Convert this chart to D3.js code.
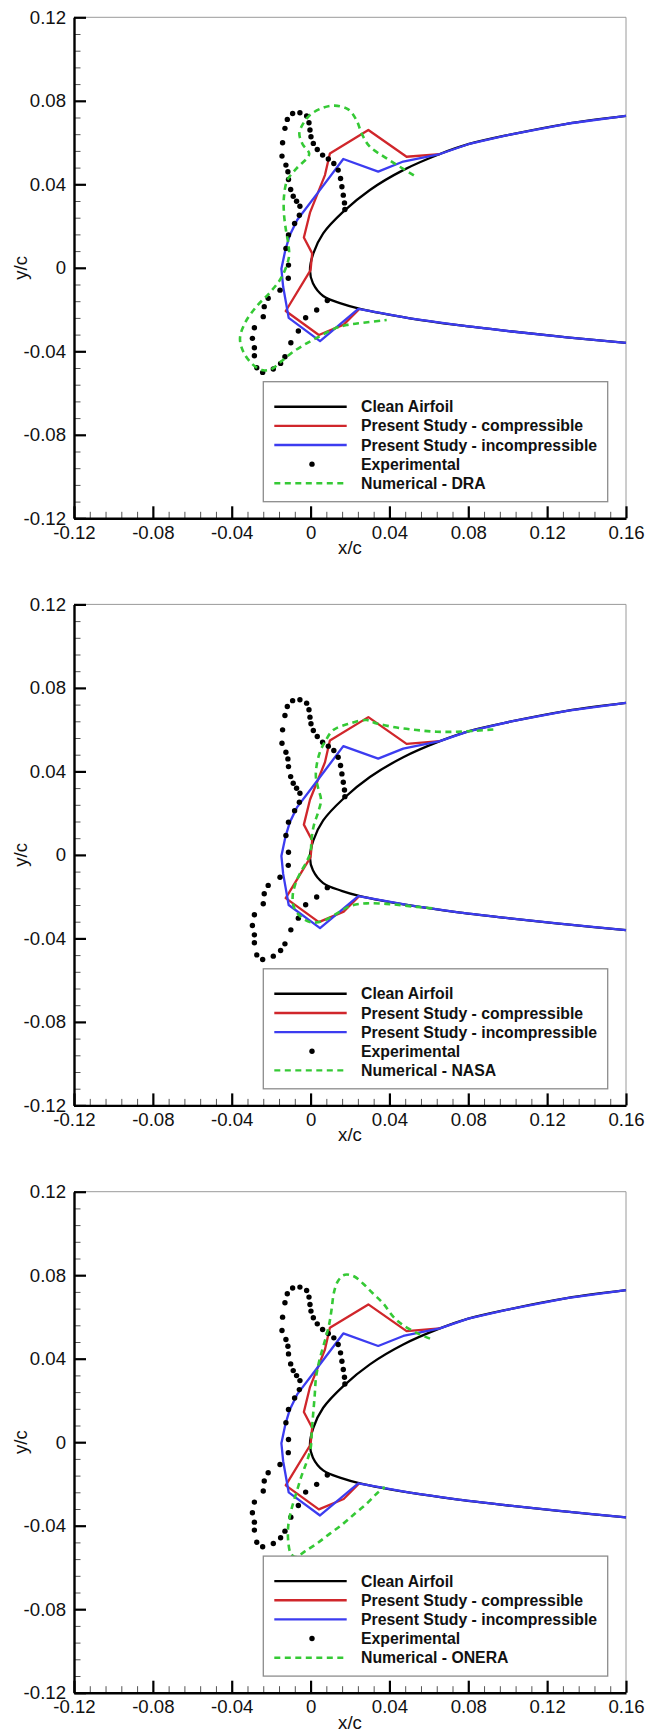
<!DOCTYPE html>
<html>
<head>
<meta charset="utf-8">
<script src="https://cdn.jsdelivr.net/npm/d3@7"></script>
<style>
  html, body { margin: 0; padding: 0; background: #fff; }
  svg { display: block; }
  text { font-family: "Liberation Sans", Arial, Helvetica, sans-serif; fill: #111; }
</style>
</head>
<body>
<svg id="chart" width="660" height="1733"></svg>
<script>
// Axis ticks and labels
const xTicks = [-0.12, -0.08, -0.04, 0, 0.04, 0.08, 0.12, 0.16];
const yTicks = [-0.12, -0.08, -0.04, 0, 0.04, 0.08, 0.12];
const xTickLabels = ["-0.12", "-0.08", "-0.04", "0", "0.04", "0.08", "0.12", "0.16"];
const yTickLabels = ["-0.12", "-0.08", "-0.04", "0", "0.04", "0.08", "0.12"];

// Clean airfoil contour (lower trailing side -> leading edge -> upper side)
const cleanAirfoil = [
  [0.16, -0.0360], [0.13, -0.0333], [0.1011, -0.0304], [0.075, -0.0275], [0.0504, -0.0242],
  [0.0251, -0.0197], [0.0157, -0.0172], [0.0064, -0.0135], [0.0012, -0.0074], [-0.0003, -0.0012],
  [0.0014, 0.0069], [0.0064, 0.0165], [0.0166, 0.0269], [0.0301, 0.0373], [0.047, 0.0468],
  [0.0656, 0.0545], [0.08, 0.0592], [0.1012, 0.0638], [0.13, 0.0690], [0.16, 0.0728]
];

// Present study, compressible ice shape
const presentCompressible = [
  [0.0656, 0.0545], [0.0487, 0.0532], [0.0293, 0.0660], [0.0098, 0.0548], [0.0073, 0.0444],
  [-0.0003, 0.0264], [-0.0034, 0.0145], [0.0008, 0.0069], [0.0000, -0.0011], [-0.0126, -0.0207],
  [0.0042, -0.0322], [0.0168, -0.0272], [0.0245, -0.0199]
];

// Present study, incompressible ice shape (includes the clean surface downstream)
const presentIncompressible = [
  [0.16, -0.0360], [0.13, -0.0333], [0.1011, -0.0304], [0.075, -0.0275], [0.0504, -0.0242],
  [0.0242, -0.0197], [0.0048, -0.0351], [-0.0111, -0.0240], [-0.0139, -0.0091], [-0.0148, -0.0005],
  [-0.0128, 0.0085], [-0.0105, 0.0157], [-0.0068, 0.0229], [0.0047, 0.0372], [0.0166, 0.0521],
  [0.0343, 0.0461], [0.0470, 0.0509], [0.0656, 0.0545], [0.08, 0.0592], [0.1012, 0.0638],
  [0.13, 0.0690], [0.16, 0.0728]
];

// Experimental ice tracing
const experimental = [
  [0.0174, 0.0279], [0.0172, 0.0311], [0.0166, 0.0348], [0.0159, 0.0388], [0.0152, 0.0428],
  [0.0140, 0.0468], [0.0118, 0.0500], [0.0090, 0.0521], [0.0061, 0.0540], [0.0034, 0.0567],
  [0.0014, 0.0596], [0.0002, 0.0628], [-0.0003, 0.0660], [-0.0008, 0.0695], [-0.0020, 0.0727],
  [-0.0054, 0.0743], [-0.0091, 0.0739], [-0.0118, 0.0711], [-0.0130, 0.0668], [-0.0142, 0.0599],
  [-0.0145, 0.0535], [-0.0125, 0.0492], [-0.0115, 0.0460], [-0.0112, 0.0423], [-0.0101, 0.0375],
  [-0.0088, 0.0343], [-0.0071, 0.0319], [-0.0054, 0.0295], [-0.0057, 0.0252], [-0.0081, 0.0212],
  [-0.0112, 0.0157], [-0.0125, 0.0093], [-0.0112, 0.0013], [-0.0113, -0.0050], [-0.0155, -0.0107],
  [-0.0215, -0.0146], [-0.0235, -0.0186], [-0.0240, -0.0234], [-0.0285, -0.0287], [-0.0295, -0.0338],
  [-0.0285, -0.0383], [-0.0285, -0.0421], [-0.0273, -0.0479], [-0.0243, -0.0501], [-0.0189, -0.0485],
  [-0.0152, -0.0458], [-0.0130, -0.0426], [-0.0100, -0.0359], [-0.0062, -0.0303], [-0.0025, -0.0239],
  [0.0031, -0.0202], [0.0085, -0.0157]
];

// Numerical ice shapes from other codes
const numericalDRA = [
  [0.0524, 0.0443], [0.0386, 0.0524], [0.0298, 0.0583], [0.0259, 0.0644], [0.0233, 0.0707],
  [0.0191, 0.0759], [0.0123, 0.0777], [0.0056, 0.0764], [-0.0003, 0.0732], [-0.0037, 0.0692],
  [-0.0057, 0.0644], [-0.0041, 0.0593], [-0.0007, 0.0545], [-0.0071, 0.0476], [-0.0118, 0.0420],
  [-0.0135, 0.0340], [-0.0135, 0.0261], [-0.0125, 0.0181], [-0.0112, 0.0109], [-0.0110, 0.0050],
  [-0.0147, -0.0045], [-0.0206, -0.0118], [-0.0274, -0.0185], [-0.0333, -0.0265], [-0.0358, -0.0338],
  [-0.0341, -0.0402], [-0.0299, -0.0458], [-0.0248, -0.0490], [-0.0198, -0.0485], [-0.0147, -0.0447],
  [-0.0088, -0.0402], [-0.0020, -0.0362], [0.0048, -0.0327], [0.0124, -0.0290], [0.0183, -0.0274],
  [0.0267, -0.0263], [0.0386, -0.0250]
];
const numericalNASA = [
  [0.0927, 0.0601], [0.0842, 0.0595], [0.0741, 0.0590], [0.0640, 0.0590], [0.0538, 0.0598],
  [0.0437, 0.0610], [0.0335, 0.0630], [0.0284, 0.0646], [0.0200, 0.0630], [0.0115, 0.0598],
  [0.0073, 0.0542], [0.0048, 0.0494], [0.0031, 0.0430], [0.0027, 0.0374], [0.0039, 0.0318],
  [0.0053, 0.0263], [0.0039, 0.0206], [0.0017, 0.0143], [0.0005, 0.0079], [0.0000, 0.0015],
  [-0.0020, -0.0033], [-0.0054, -0.0089], [-0.0079, -0.0145], [-0.0091, -0.0200], [-0.0084, -0.0252],
  [-0.0050, -0.0296], [0.0005, -0.0324], [0.0073, -0.0312], [0.0149, -0.0272], [0.0200, -0.0245],
  [0.0284, -0.0232], [0.0403, -0.0236], [0.0538, -0.0249], [0.0640, -0.0257]
];
const numericalONERA = [
  [0.0606, 0.0496], [0.0546, 0.0520], [0.0470, 0.0560], [0.0420, 0.0600], [0.0369, 0.0664],
  [0.0318, 0.0711], [0.0267, 0.0759], [0.0217, 0.0796], [0.0174, 0.0802], [0.0141, 0.0775],
  [0.0119, 0.0719], [0.0107, 0.0639], [0.0095, 0.0568], [0.0078, 0.0504], [0.0056, 0.0432],
  [0.0039, 0.0368], [0.0027, 0.0305], [0.0021, 0.0225], [0.0014, 0.0145], [0.0007, 0.0065],
  [0.0000, -0.0031], [-0.0020, -0.0095], [-0.0045, -0.0159], [-0.0071, -0.0239], [-0.0096, -0.0318],
  [-0.0113, -0.0398], [-0.0113, -0.0478], [-0.0100, -0.0534], [-0.0076, -0.0550], [-0.0029, -0.0523],
  [0.0031, -0.0486], [0.0098, -0.0438], [0.0166, -0.0390], [0.0225, -0.0342], [0.0284, -0.0295],
  [0.0335, -0.0247], [0.0377, -0.0215]
];

// Series names
const seriesLabels = ["Clean Airfoil", "Present Study - compressible", "Present Study - incompressible", "Experimental"];
const numericalNames = ["Numerical - DRA", "Numerical - NASA", "Numerical - ONERA"];
const numericalSets = [numericalDRA, numericalNASA, numericalONERA];

// ---------------------------------------------------------------------------
const COLORS = { clean: "#000000", comp: "#d0262b", incomp: "#3c3cf0", exp: "#000000", num: "#35c935" };
const panelTops = [17.3, 604.4, 1191.7];
const plotLeft = 74, plotRight = 626, plotH = 501;
const TICK_FONT = 18.6;
const svg = d3.select("#chart");
svg.append("rect").attr("width", 660).attr("height", 1733).attr("fill", "#fff");

const x = d3.scaleLinear().domain([-0.12, 0.16]).range([plotLeft, plotRight]);
const xMinor = d3.range(-0.12, 0.1601, 0.008).filter(v => Math.abs(Math.round(v / 0.04) * 0.04 - v) > 1e-6);
const yMinor = d3.range(-0.12, 0.1201, 0.008).filter(v => Math.abs(Math.round(v / 0.04) * 0.04 - v) > 1e-6);

numericalSets.forEach((numData, i) => {
  const top = panelTops[i], bottom = top + plotH;
  const y = d3.scaleLinear().domain([-0.12, 0.12]).range([bottom, top]);
  const g = svg.append("g");

  // frame: thin grey top and right edges
  g.append("line").attr("x1", plotLeft).attr("x2", plotRight).attr("y1", top).attr("y2", top)
    .attr("stroke", "#9a9a9a").attr("stroke-width", 1);
  g.append("line").attr("x1", plotRight).attr("x2", plotRight).attr("y1", top).attr("y2", bottom)
    .attr("stroke", "#9a9a9a").attr("stroke-width", 1);

  // minor ticks
  g.append("g").attr("transform", `translate(0,${bottom})`)
    .call(d3.axisBottom(x).tickValues(xMinor).tickSize(-6.5).tickFormat(""))
    .call(a => a.select(".domain").remove())
    .call(a => a.selectAll("line").attr("stroke", "#555").attr("stroke-width", 1));
  g.append("g").attr("transform", `translate(${plotLeft},0)`)
    .call(d3.axisLeft(y).tickValues(yMinor).tickSize(-6.5).tickFormat(""))
    .call(a => a.select(".domain").remove())
    .call(a => a.selectAll("line").attr("stroke", "#555").attr("stroke-width", 1));

  // major axes
  g.append("g").attr("transform", `translate(0,${bottom})`)
    .call(d3.axisBottom(x).tickValues(xTicks).tickSizeInner(-12).tickSizeOuter(0).tickPadding(7.5)
      .tickFormat((d, k) => xTickLabels[k]))
    .call(a => a.select(".domain").attr("stroke", "#000").attr("stroke-width", 2.4))
    .call(a => a.selectAll("line").attr("stroke", "#000").attr("stroke-width", 2.2))
    .call(a => a.selectAll("text").attr("font-size", TICK_FONT).attr("fill", "#222")
      .attr("font-family", "'Liberation Sans', Arial, sans-serif"));
  g.append("g").attr("transform", `translate(${plotLeft},0)`)
    .call(d3.axisLeft(y).tickValues(yTicks).tickSizeInner(-12).tickSizeOuter(0).tickPadding(8)
      .tickFormat((d, k) => yTickLabels[k]))
    .call(a => a.select(".domain").attr("stroke", "#000").attr("stroke-width", 2.4))
    .call(a => a.selectAll("line").attr("stroke", "#000").attr("stroke-width", 2.2))
    .call(a => a.selectAll("text").attr("font-size", TICK_FONT).attr("fill", "#222")
      .attr("font-family", "'Liberation Sans', Arial, sans-serif"));

  // axis titles
  g.append("text").attr("x", (plotLeft + plotRight) / 2).attr("y", bottom + 36)
    .attr("text-anchor", "middle").attr("font-size", TICK_FONT).attr("fill", "#222").text("x/c");
  g.append("text").attr("transform", `translate(27,${(top + bottom) / 2}) rotate(-90)`)
    .attr("text-anchor", "middle").attr("font-size", TICK_FONT).attr("fill", "#222").text("y/c");

  // curves
  const line = d3.line().x(d => x(d[0])).y(d => y(d[1]));
  const smooth = d3.line().x(d => x(d[0])).y(d => y(d[1])).curve(d3.curveCatmullRom.alpha(0.5));

  g.append("path").datum(cleanAirfoil).attr("d", smooth)
    .attr("fill", "none").attr("stroke", COLORS.clean).attr("stroke-width", 2.3);
  g.append("path").datum(presentCompressible).attr("d", line)
    .attr("fill", "none").attr("stroke", COLORS.comp).attr("stroke-width", 2.3).attr("stroke-linejoin", "round");
  g.append("path").datum(presentIncompressible).attr("d", line)
    .attr("fill", "none").attr("stroke", COLORS.incomp).attr("stroke-width", 2.3).attr("stroke-linejoin", "round");
  g.append("g").selectAll("circle").data(experimental).join("circle")
    .attr("cx", d => x(d[0])).attr("cy", d => y(d[1])).attr("r", 2.7).attr("fill", COLORS.exp);
  g.append("path").datum(numData).attr("d", smooth)
    .attr("fill", "none").attr("stroke", COLORS.num).attr("stroke-width", 2.6)
    .attr("stroke-dasharray", "6,4.5");

  // legend
  const lg = g.append("g");
  const lx = 263.3, ly = top + 364.4;
  lg.append("rect").attr("x", lx).attr("y", ly).attr("width", 344.4).attr("height", 120)
    .attr("fill", "#fff").attr("stroke", "#8c8c8c").attr("stroke-width", 1.3);
  const entries = [
    { label: seriesLabels[0], color: COLORS.clean, type: "line" },
    { label: seriesLabels[1], color: COLORS.comp, type: "line" },
    { label: seriesLabels[2], color: COLORS.incomp, type: "line" },
    { label: seriesLabels[3], color: COLORS.exp, type: "dot" },
    { label: numericalNames[i], color: COLORS.num, type: "dash" }
  ];
  entries.forEach((e, k) => {
    const ry = ly + 25 + k * 19.15;
    if (e.type === "dot") {
      lg.append("circle").attr("cx", 312).attr("cy", ry).attr("r", 2.7).attr("fill", e.color);
    } else {
      lg.append("line").attr("x1", 274.3).attr("x2", 346.7).attr("y1", ry).attr("y2", ry)
        .attr("stroke", e.color).attr("stroke-width", 2.4)
        .attr("stroke-dasharray", e.type === "dash" ? "6,4.5" : null);
    }
    lg.append("text").attr("x", 361).attr("y", ry + 5.6).attr("font-size", 15.8)
      .attr("font-weight", "bold").attr("fill", "#1a1a1a").text(e.label);
  });
});
</script>
</body>
</html>
